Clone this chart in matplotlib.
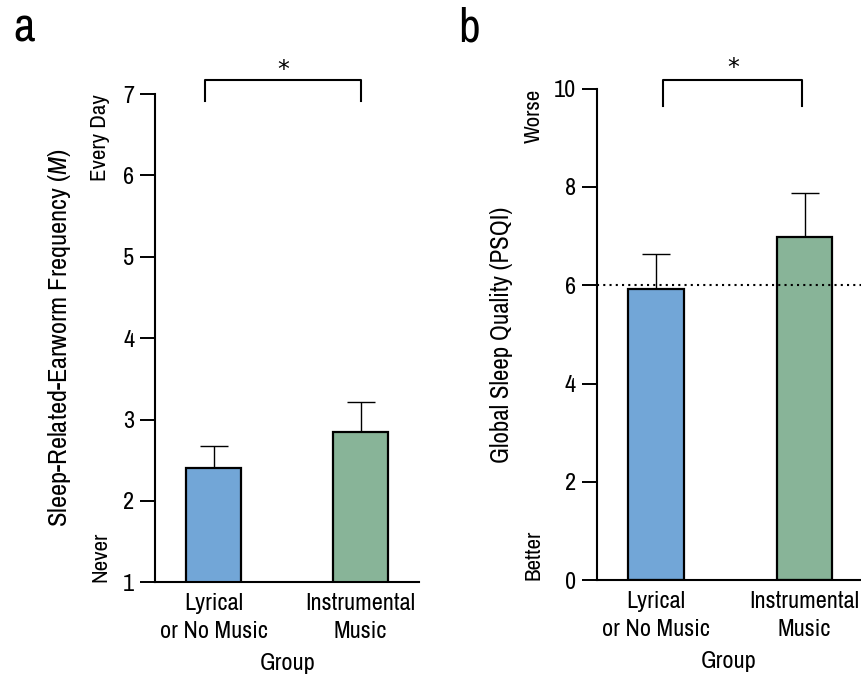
import numpy as np
import matplotlib
matplotlib.use("Agg")
import matplotlib.pyplot as plt

plt.rcParams['font.family'] = ['Archivo Narrow', 'Roboto Condensed', 'DejaVu Sans']
plt.rcParams['mathtext.fontset'] = 'custom'
plt.rcParams['mathtext.rm'] = 'Archivo Narrow'
plt.rcParams['mathtext.it'] = 'Archivo Narrow:italic'

# data
groups = ["Lyrical\nor No Music", "Instrumental\nMusic"]
colors = ["#72a6d7", "#88b498"]

earworm_mean = [2.40, 2.85]
earworm_err = [0.28, 0.37]

psqi_mean = [5.93, 6.99]
psqi_err = [0.70, 0.89]
psqi_cutoff = 6

FS = 17.5


def draw_panel(ax, means, errs, ylim, yticks, top_lab, bot_lab, ylabel, ylab_fs, lab_x, ylab_x):
    x = np.arange(len(means))
    ax.errorbar(x, means, yerr=[np.zeros(len(errs)), errs], fmt="none",
                ecolor="black", elinewidth=1.0, capsize=10.4, capthick=1.0, zorder=1)
    ax.bar(x, means, width=0.375, color=colors, edgecolor="black", linewidth=1.6, zorder=2)
    ax.set_ylim(ylim)
    ax.set_yticks(yticks)
    ax.set_xticks(x)
    ax.set_xticklabels(groups, fontsize=FS, linespacing=1.4)
    ax.tick_params(axis="y", length=11, width=1.4, labelsize=FS, pad=4)
    ax.tick_params(axis="x", length=0, pad=8)
    for s in ["top", "right"]:
        ax.spines[s].set_visible(False)
    for s in ["left", "bottom"]:
        ax.spines[s].set_linewidth(1.5)
    ax.set_xlabel("Group", fontsize=FS, labelpad=8)
    ax.set_ylabel(ylabel, fontsize=ylab_fs)
    ax.yaxis.set_label_coords(ylab_x, 0.5)
    trans = ax.get_yaxis_transform()
    ax.text(lab_x, ylim[1], top_lab, rotation=90, ha="center", va="top",
            fontsize=FS - 1, transform=trans)
    ax.text(lab_x, ylim[0], bot_lab, rotation=90, ha="center", va="bottom",
            fontsize=FS - 1, transform=trans)


fig = plt.figure(figsize=(8.61, 6.77), dpi=100)

ax1 = fig.add_axes([0.180, 0.140, 0.307, 0.721])
draw_panel(ax1, earworm_mean, earworm_err, (1, 7), range(1, 8), "Every Day", "Never",
           r"Sleep-Related-Earworm Frequency ($\mathit{M}$)", 19, -0.208, -0.31)
ax1.set_xlim(-0.4, 1.4)
ax1.plot([-0.06, -0.06, 1.0, 1.0], [6.91, 7.17, 7.17, 6.91], color="black",
         lw=1.5, clip_on=False)
ax1.text(0.47, 7.30, "*", ha="center", va="center", fontsize=17, family="DejaVu Sans")

ax2 = fig.add_axes([0.693, 0.143, 0.307, 0.726])
draw_panel(ax2, psqi_mean, psqi_err, (0, 10), range(0, 11, 2), "Worse", "Better",
           "Global Sleep Quality (PSQI)", 18, -0.239, -0.317)
ax2.set_xlim(-0.4, 1.38)
ax2.axhline(psqi_cutoff, color="black", lw=1.5, linestyle=(0, (1, 2)), zorder=3)
ax2.plot([0.05, 0.05, 0.98, 0.98], [9.64, 10.18, 10.18, 9.64], color="black",
         lw=1.5, clip_on=False)
ax2.text(0.52, 10.42, "*", ha="center", va="center", fontsize=17, family="DejaVu Sans")

fig.text(0.016, 0.938, "a", fontsize=34, ha="left", va="baseline")
fig.text(0.532, 0.938, "b", fontsize=34, ha="left", va="baseline")

fig.savefig("out.png", dpi=100)
